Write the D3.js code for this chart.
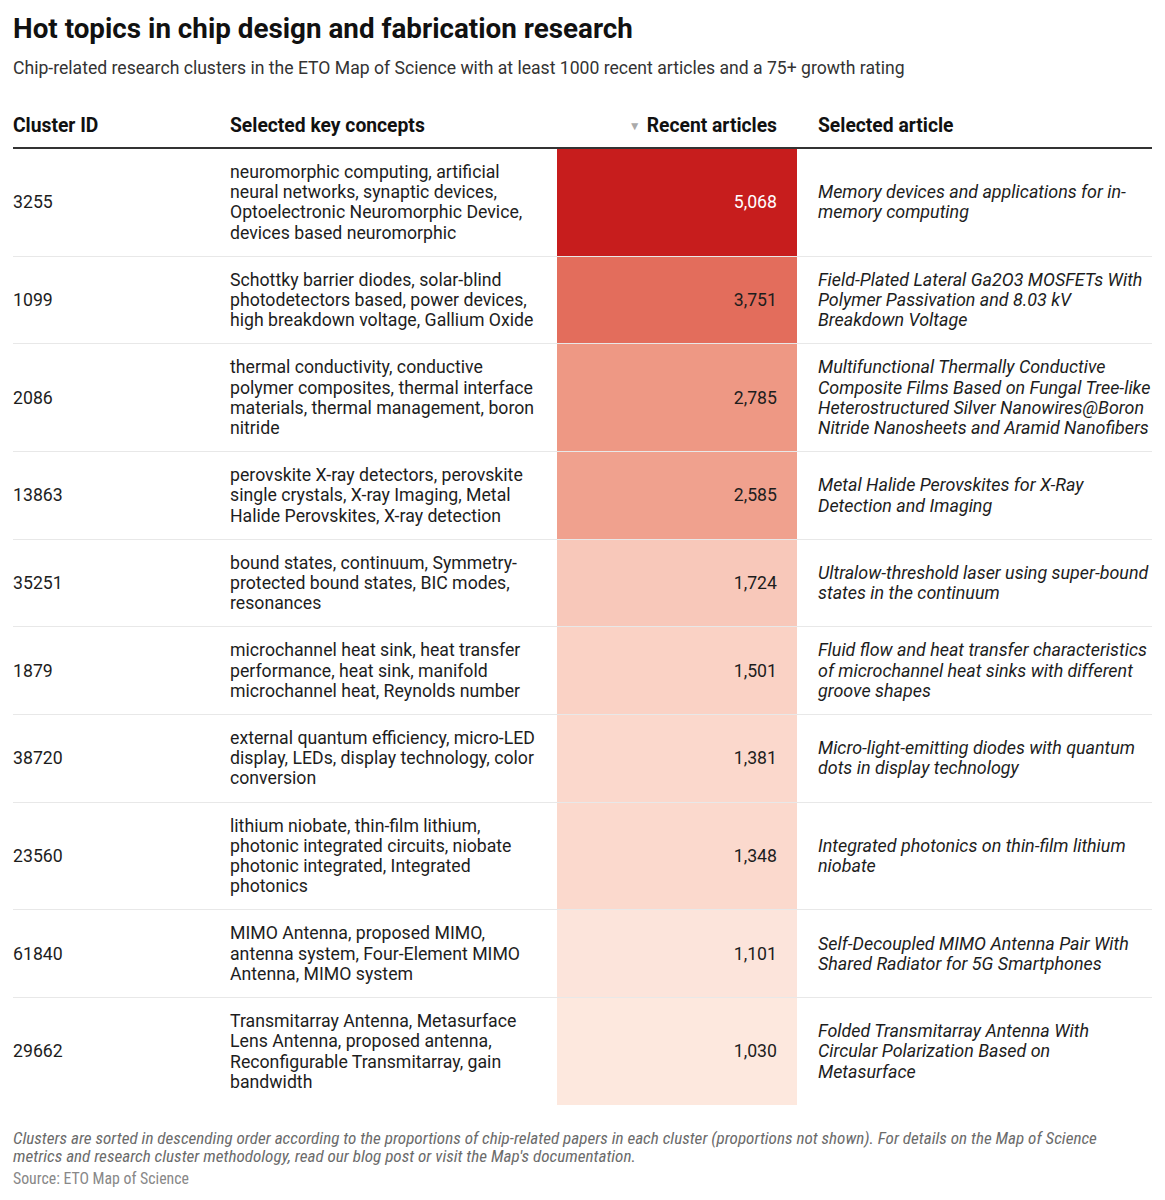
<!DOCTYPE html>
<html>
<head>
<meta charset="utf-8">
<script src="https://cdn.jsdelivr.net/npm/d3@7"></script>
<style>
  body { margin: 0; background: #fff; font-family: Roboto, "Noto Sans", sans-serif; color: #1d1d1d; }
  #chart { width: 1139px; padding: 12px 13px 0 13px; }
  h1 { font-size: 27.8px; font-weight: 700; margin: 0; line-height: 34px; color: #111; }
  .sub { font-size: 17.6px; margin: 11px 0 0 0; line-height: 22px; color: #333; }
  table { border-collapse: collapse; width: 1139px; margin-top: 34px; table-layout: fixed; }
  th { font-size: 19.3px; font-weight: 700; text-align: left; padding: 0 0 8px 0; line-height: 26px; border-bottom: 2.5px solid #333; color: #111; }
  th.num { text-align: right; padding-right: 20px; }
  th.art { padding-left: 21px; }
  .arrow { color: #aaa; font-size: 12px; margin-right: 6px; vertical-align: 2px; }
  td { font-size: 17.7px; line-height: 20.2px; vertical-align: middle; padding: 13px 0 13px 0; border-bottom: 1px solid #e8e8e8; }
  tr:last-child td { border-bottom: none; }
  td.num { text-align: right; padding-right: 20px; }
  td.con { padding-right: 18px; }
  td.art { font-style: italic; font-size: 17.9px; padding-left: 21px; }
  .notes { margin-top: 24px; max-width: 1120px; font-size: 17.1px; line-height: 18px; color: #6b6b6b; font-style: italic; font-family: "Roboto Condensed", "Liberation Sans Narrow", Roboto, sans-serif; }
  .source { margin-top: 5px; font-size: 15.8px; line-height: 18px; color: #888; font-family: "Roboto Condensed", "Liberation Sans Narrow", Roboto, sans-serif; }
</style>
</head>
<body>
<div id="chart"></div>
<script>
const clusterIds = ["3255", "1099", "2086", "13863", "35251", "1879", "38720", "23560", "61840", "29662"];

const keyConcepts = [
  "neuromorphic computing, artificial neural networks, synaptic devices, Optoelectronic Neuromorphic Device, devices based neuromorphic",
  "Schottky barrier diodes, solar-blind photodetectors based, power devices, high breakdown voltage, Gallium Oxide",
  "thermal conductivity, conductive polymer composites, thermal interface materials, thermal management, boron nitride",
  "perovskite X-ray detectors, perovskite single crystals, X-ray Imaging, Metal Halide Perovskites, X-ray detection",
  "bound states, continuum, Symmetry-protected bound states, BIC modes, resonances",
  "microchannel heat sink, heat transfer performance, heat sink, manifold microchannel heat, Reynolds number",
  "external quantum efficiency, micro-LED display, LEDs, display technology, color conversion",
  "lithium niobate, thin-film lithium, photonic integrated circuits, niobate photonic integrated, Integrated photonics",
  "MIMO Antenna, proposed MIMO, antenna system, Four-Element MIMO Antenna, MIMO system",
  "Transmitarray Antenna, Metasurface Lens Antenna, proposed antenna, Reconfigurable Transmitarray, gain bandwidth"
];

const recentArticles = [5068, 3751, 2785, 2585, 1724, 1501, 1381, 1348, 1101, 1030];

const selectedArticles = [
  "Memory devices and applications for in-memory computing",
  "Field-Plated Lateral Ga2O3 MOSFETs With Polymer Passivation and 8.03 kV Breakdown Voltage",
  "Multifunctional Thermally Conductive Composite Films Based on Fungal Tree-like Heterostructured Silver Nanowires@Boron Nitride Nanosheets and Aramid Nanofibers",
  "Metal Halide Perovskites for X-Ray Detection and Imaging",
  "Ultralow-threshold laser using super-bound states in the continuum",
  "Fluid flow and heat transfer characteristics of microchannel heat sinks with different groove shapes",
  "Micro-light-emitting diodes with quantum dots in display technology",
  "Integrated photonics on thin-film lithium niobate",
  "Self-Decoupled MIMO Antenna Pair With Shared Radiator for 5G Smartphones",
  "Folded Transmitarray Antenna With Circular Polarization Based on Metasurface"
];

const headers = ["Cluster ID", "Selected key concepts", "Recent articles", "Selected article"];

const title = "Hot topics in chip design and fabrication research";
const subtitle = "Chip-related research clusters in the ETO Map of Science with at least 1000 recent articles and a 75+ growth rating";
const notes = "Clusters are sorted in descending order according to the proportions of chip-related papers in each cluster (proportions not shown). For details on the Map of Science metrics and research cluster methodology, read our blog post or visit the Map's documentation.";
const source = "Source: ETO Map of Science";

const rows = clusterIds.map((id, i) => ({
  id: id,
  concepts: keyConcepts[i],
  count: recentArticles[i],
  article: selectedArticles[i]
}));

const color = d3.scaleLinear()
  .domain([1000, 1700, 2700, 3750, 5068])
  .range(["#fde9e0", "#f8c9bb", "#ef9c88", "#e36d5c", "#c71d1d"])
  .interpolate(d3.interpolateLab);

const fmt = d3.format(",");

const chart = d3.select("#chart");

chart.append("h1").text(title);
chart.append("p").attr("class", "sub").text(subtitle);

const table = chart.append("table");

const colWidths = [217, 327, 240, 355];
table.append("colgroup")
  .selectAll("col")
  .data(colWidths)
  .join("col")
  .style("width", d => d + "px");

const headRow = table.append("thead").append("tr");
headRow.append("th").text(headers[0]);
headRow.append("th").text(headers[1]);
const numHead = headRow.append("th").attr("class", "num");
numHead.append("span").attr("class", "arrow").text("▼");
numHead.append("span").text(headers[2]);
headRow.append("th").attr("class", "art").text(headers[3]);

const tr = table.append("tbody")
  .selectAll("tr")
  .data(rows)
  .join("tr");

tr.append("td").text(d => d.id);
tr.append("td").attr("class", "con").text(d => d.concepts);
tr.append("td")
  .attr("class", "num")
  .style("background", d => color(d.count))
  .style("color", d => d3.lab(color(d.count)).l < 60 ? "#fff" : "#1d1d1d")
  .text(d => fmt(d.count));
tr.append("td").attr("class", "art").text(d => d.article);

chart.append("div").attr("class", "notes").text(notes);
chart.append("div").attr("class", "source").text(source);
</script>
</body>
</html>
